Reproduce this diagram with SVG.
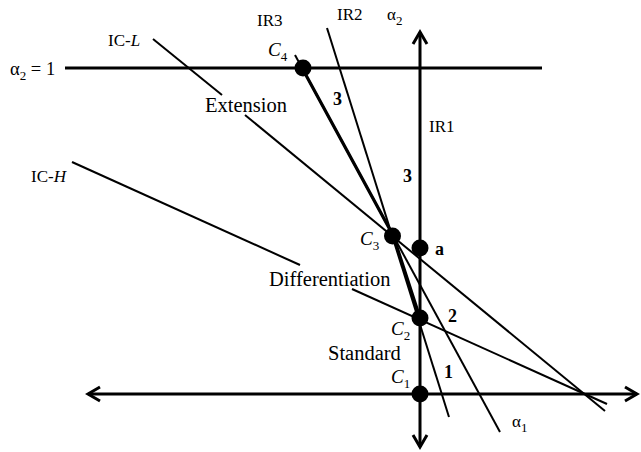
<svg xmlns="http://www.w3.org/2000/svg" width="641" height="452" viewBox="0 0 641 452">
<defs>
<marker id="chev" markerUnits="userSpaceOnUse" markerWidth="20" markerHeight="20" refX="15" refY="10" orient="auto-start-reverse" overflow="visible">
<path d="M3,3 L15,10 L3,17" fill="none" stroke="#000" stroke-width="3"/>
</marker>
</defs>
<style>
text{font-family:"Liberation Serif","Times New Roman",serif;fill:#000}
.lab{font-size:17px}
.lab18{font-size:18.5px}
.big{font-size:20.5px}
.num{font-size:18px;font-weight:bold}
.ci{font-size:19px;font-style:italic}
.sub{font-size:13px;font-style:normal}
.axis{stroke:#000;stroke-width:3;fill:none}
.thin{stroke:#000;stroke-width:2;fill:none}
.thick{stroke:#000;stroke-width:3.2;fill:none}
.dot{fill:#000}
</style>
<rect width="641" height="452" fill="#fff"/>
<g id="connectors">
<line id="alpha2-eq-1" class="axis" x1="65" y1="68" x2="542" y2="68"/>
<line id="axis-alpha1" class="axis" x1="88" y1="394" x2="637" y2="394" marker-start="url(#chev)" marker-end="url(#chev)"/>
<line id="axis-alpha2" class="axis" x1="420" y1="447" x2="420" y2="32" marker-start="url(#chev)" marker-end="url(#chev)"/>
<line id="IR3" class="thin" x1="295" y1="55" x2="500" y2="432"/>
<line id="IR2" class="thin" x1="327" y1="28" x2="449" y2="417"/>
<polyline id="frontier" class="thick" points="302.1,68 393.4,236 420,318"/>
<line id="IC-L-a" class="thin" x1="153" y1="39" x2="222" y2="95"/>
<line id="IC-L-b" class="thin" x1="245" y1="115" x2="605" y2="411"/>
<line id="IC-H-a" class="thin" x1="72" y1="162" x2="300" y2="265"/>
<line id="IC-H-b" class="thin" x1="352" y1="289" x2="607" y2="404"/>
</g>
<g id="C4"><circle class="dot" cx="303" cy="68" r="8.5"/><text class="ci" x="268" y="56">C<tspan class="sub" dy="5">4</tspan></text></g>
<g id="C3"><circle class="dot" cx="392.5" cy="236" r="8.5"/><text class="ci" x="360" y="245">C<tspan class="sub" dy="5">3</tspan></text></g>
<g id="a"><circle class="dot" cx="420" cy="248" r="8.5"/><text class="num" x="435" y="255">a</text></g>
<g id="C2"><circle class="dot" cx="420" cy="318" r="8.5"/><text class="ci" x="391" y="335">C<tspan class="sub" dy="5">2</tspan></text></g>
<g id="C1"><circle class="dot" cx="420" cy="394" r="8.5"/><text class="ci" x="391" y="383">C<tspan class="sub" dy="5">1</tspan></text></g>
<g id="labels">
<text class="lab18" x="10" y="75">α<tspan class="sub" dy="5">2</tspan><tspan dy="-5"> = 1</tspan></text>
<text class="lab" x="108" y="46">IC-<tspan font-style="italic">L</tspan></text>
<text class="lab" x="31" y="182">IC-<tspan font-style="italic">H</tspan></text>
<text class="lab" x="257" y="26">IR3</text>
<text class="lab" x="337" y="20">IR2</text>
<text class="lab" x="387" y="20">α<tspan class="sub" dy="5">2</tspan></text>
<text class="lab" x="429" y="132">IR1</text>
<text class="lab" x="512" y="427">α<tspan class="sub" dy="5">1</tspan></text>
<text class="big" x="205" y="112">Extension</text>
<text class="big" x="269" y="286">Differentiation</text>
<text class="big" x="328" y="360">Standard</text>
<text class="num" x="333" y="105">3</text>
<text class="num" x="403" y="182">3</text>
<text class="num" x="448" y="322">2</text>
<text class="num" x="444" y="378">1</text>
</g>
</svg>
